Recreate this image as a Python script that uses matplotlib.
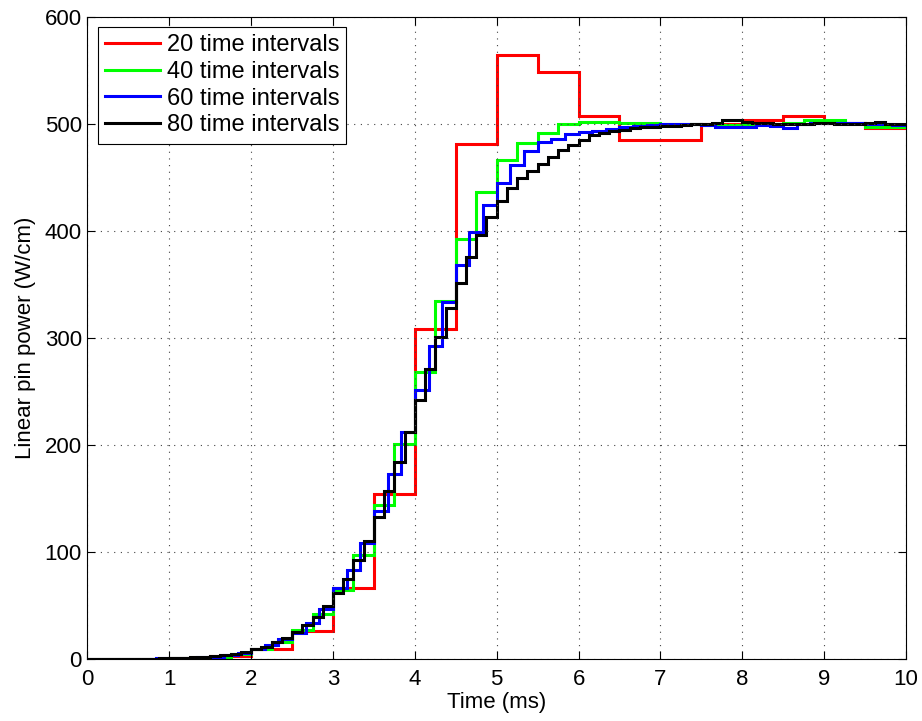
import numpy as np
import matplotlib
matplotlib.use('Agg')
import matplotlib.pyplot as plt

# ── Step values (W/cm), one per time interval over 0–10 ms ─────────────
p20 = [0, 0.3, 1, 3, 9, 26, 66, 154, 308, 481,
       564, 548, 507, 485, 485, 500, 503, 507, 501, 496]

p40 = [0, 0.1, 0.2, 0.3, 0.6, 1.0, 2.0, 4.5, 9, 16,
       27, 42, 64, 97, 144, 201, 268, 334, 392, 436,
       466, 482, 491, 500, 502, 502, 501, 501, 500, 500,
       499, 499, 500, 500, 501, 503, 503, 501, 497, 497]

p60 = [0, 0, 0.1, 0.2, 0.3, 0.5, 0.7, 1.0, 1.5, 2.2, 3.3, 5.5,
       9, 13, 18.5, 24, 34, 47, 66, 83, 108, 138, 173, 212,
       251, 292, 333, 368, 399, 424, 445, 461, 474, 483, 486, 490,
       492, 493, 495, 497, 498, 499, 500, 500, 500, 499, 497, 497,
       497, 499, 498, 496, 500, 501, 501, 501, 501, 500, 500, 499]

p80 = [0, 0, 0.05, 0.1, 0.2, 0.3, 0.4, 0.6, 0.8, 1.1, 1.5, 2.0, 2.7, 3.6, 4.8, 6.5,
       9, 11.5, 16, 19.5, 25.5, 31.5, 39.5, 49.5, 62, 75, 92, 110, 133, 157, 184, 212,
       242, 271, 301, 328, 351, 375, 396, 413, 428, 440, 449, 456, 462, 469, 475, 480,
       485, 489, 491, 493, 494, 496, 497, 497, 498, 498, 499, 500, 500, 501, 503, 503,
       502, 501, 501, 500, 500, 500, 500, 501, 501, 500, 500, 500, 501, 502, 500, 500]

series = [(p20, '#ff0000', '20 time intervals'),
          (p40, '#00ff00', '40 time intervals'),
          (p60, '#0000ff', '60 time intervals'),
          (p80, '#000000', '80 time intervals')]

T_END = 10.0

plt.rcParams.update({'font.family': ['Liberation Sans', 'DejaVu Sans'], 'font.size': 16})
fig = plt.figure(figsize=(9.22, 7.21), dpi=100)
ax = fig.add_axes([0.0949, 0.086, 0.8877, 0.891])

for vals, c, lab in series:
    edges = np.linspace(0, T_END, len(vals) + 1)
    ax.stairs(vals, edges, color=c, lw=2.2, label=lab, baseline=None)

ax.set_xlim(0, 10)
ax.set_ylim(0, 600)
ax.set_xticks(range(0, 11))
ax.set_yticks(range(0, 601, 100))
ax.grid(True, color='#444444', ls=(0, (1, 5)), lw=0.8)
ax.tick_params(direction='in', top=True, right=True, length=6, width=0.8, labelsize=16, pad=4)
ax.tick_params(axis='x', pad=7)
for s in ax.spines.values():
    s.set_linewidth(0.8)

ax.set_xlabel('Time (ms)', fontsize=16, labelpad=2)
ax.set_ylabel('Linear pin power (W/cm)', fontsize=16, labelpad=6)

leg = ax.legend(loc='upper left', fontsize=17, fancybox=False, framealpha=1,
                edgecolor='black', handlelength=2.3, borderaxespad=0.45,
                labelspacing=0.2, borderpad=0.3, handletextpad=0.3)
leg.get_frame().set_linewidth(0.8)

fig.savefig('out.png', dpi=100, facecolor='white')
plt.close()
